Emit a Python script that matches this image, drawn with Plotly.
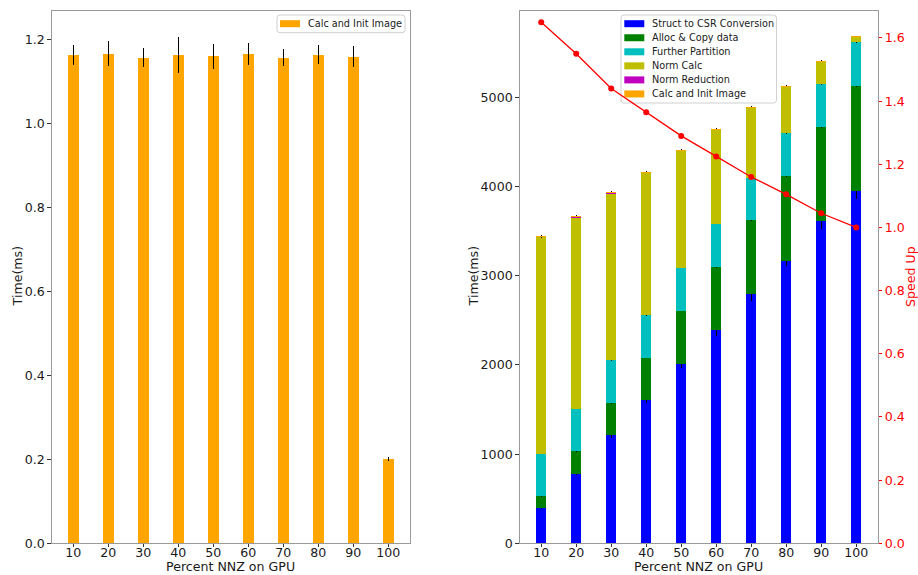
import plotly.graph_objects as go

# Percent of non-zeros handled on the GPU
pct_nnz = [10, 20, 30, 40, 50, 60, 70, 80, 90, 100]

# Left panel: image calculation / initialisation time (ms)
calc_init = [1.164, 1.166, 1.157, 1.164, 1.160, 1.166, 1.157, 1.164, 1.159, 0.200]
calc_init_err = [0.024, 0.030, 0.022, 0.043, 0.030, 0.026, 0.020, 0.022, 0.025, 0.005]

# Right panel: stacked stage times (ms)
struct_csr = [396, 781, 1211, 1607, 2010, 2388, 2791, 3169, 3610, 3954]
struct_csr_err = [10, 15, 28, 37, 41, 60, 75, 62, 88, 90]
alloc_copy = [131, 250, 359, 475, 599, 710, 830, 945, 1054, 1173]
alloc_copy_err = [4, 5, 6, 6, 7, 8, 8, 9, 10, 10]
further_partition = [479, 475, 482, 474, 478, 482, 479, 482, 482, 490]
further_partition_err = [4, 4, 5, 5, 5, 5, 5, 5, 5, 5]
norm_calc = [2434, 2157, 1880, 1603, 1319, 1061, 788, 527, 261, 67]
norm_calc_err = [12, 12, 12, 12, 12, 12, 10, 10, 10, 8]
norm_reduction = [4, 4, 4, 4, 4, 4, 4, 4, 4, 4]

# Speed-up relative to 100% on GPU
speed_up = [1.65, 1.55, 1.44, 1.365, 1.29, 1.225, 1.16, 1.105, 1.045, 1.0]

FONT = "DejaVu Sans"
W, H = 918, 575
BAR_W = 3
SPINE = "#9a9a9a"
TXT = "#1a1a1a"
FS = 12.6
LEG_FS = 9.7

# plot-area edges in pixels
TOP, BOTTOM = 10.5, 543.3
L1, R1 = 51.8, 409.8
L2, R2 = 519.7, 877.7


def px(x):
    return x / W


def py(y):
    return 1 - y / H


fig = go.Figure()

fig.add_trace(go.Bar(
    x=pct_nnz, y=calc_init, width=BAR_W, name="Calc and Init Image",
    marker=dict(color="#FFA500", line=dict(width=0)),
    error_y=dict(type="data", array=calc_init_err, color="black", thickness=1.3, width=0),
    xaxis="x", yaxis="y", showlegend=False,
))

stack = [
    ("Struct to CSR Conversion", struct_csr, struct_csr_err, "#0000FF"),
    ("Alloc & Copy data", alloc_copy, alloc_copy_err, "#008000"),
    ("Further Partition", further_partition, further_partition_err, "#00BFBF"),
    ("Norm Calc", norm_calc, norm_calc_err, "#BFBF00"),
    ("Norm Reduction", norm_reduction, None, "#BF00BF"),
    ("Calc and Init Image", calc_init, None, "#FFA500"),
]
for name, vals, errs, col in stack:
    err = dict(type="data", array=errs, color="black", thickness=1.3, width=0) if errs else None
    fig.add_trace(go.Bar(
        x=pct_nnz, y=vals, width=BAR_W, name=name,
        marker=dict(color=col, line=dict(width=0)),
        error_y=err, xaxis="x2", yaxis="y2", showlegend=False,
    ))

fig.add_trace(go.Scatter(
    x=pct_nnz, y=speed_up, mode="lines+markers", name="Speed Up",
    line=dict(color="#FF0000", width=1.3), marker=dict(color="#FF0000", size=6),
    xaxis="x2", yaxis="y3", showlegend=False,
))

ydom = [py(BOTTOM), py(TOP)]
tickfont = dict(family=FONT, size=FS, color=TXT)

common_x = dict(
    range=[3.85, 106.15], tickvals=pct_nnz, ticks="outside", ticklen=3,
    tickcolor="#333", showline=True, linecolor=SPINE, linewidth=1, mirror=True,
    showgrid=False, zeroline=False, tickfont=tickfont, automargin=False,
    ticklabelstandoff=-5,
)
common_y = dict(
    ticks="outside", ticklen=3.5, tickcolor="#333", showline=True,
    linecolor=SPINE, mirror=True, showgrid=False, zeroline=False,
    tickfont=tickfont, automargin=False,
)

fig.update_layout(
    width=W, height=H, margin=dict(l=0, r=0, t=0, b=0),
    paper_bgcolor="white", plot_bgcolor="rgba(0,0,0,0)",
    barmode="stack", font=dict(family=FONT), showlegend=False,
    xaxis=dict(domain=[px(L1), px(R1)], anchor="y", **common_x),
    yaxis=dict(domain=ydom, range=[0, 1.269], dtick=0.2, tickformat=".1f",
               anchor="x", **common_y),
    xaxis2=dict(domain=[px(L2), px(R2)], anchor="y2", **common_x),
    yaxis2=dict(domain=ydom, range=[0, 5973], dtick=1000, anchor="x2", **common_y),
    yaxis3=dict(
        domain=ydom, range=[0, 1.687], dtick=0.2, tickformat=".1f", anchor="x2",
        overlaying="y2", side="right", ticks="outside", ticklen=3.5,
        tickcolor="#FF0000", showline=False, showgrid=False, zeroline=False,
        tickfont=dict(family=FONT, size=FS, color="#FF0000"), automargin=False,
    ),
)

# Axis titles
mid_y = py((TOP + BOTTOM) / 2)
for cx in ((L1 + R1) / 2, (L2 + R2) / 2):
    fig.add_annotation(
        text="Percent NNZ on GPU", x=px(cx), y=0, xref="paper", yref="paper",
        showarrow=False, xanchor="center", yanchor="bottom", borderpad=0,
        font=dict(family=FONT, size=FS, color=TXT),
    )
for text, x, col in [("Time(ms)", 17.5, TXT), ("Time(ms)", 473.5, TXT), ("Speed Up", 911, "#FF0000")]:
    fig.add_annotation(
        text=text, x=px(x), y=mid_y, xref="paper", yref="paper", showarrow=False,
        textangle=-90, xanchor="center", yanchor="middle", borderpad=0,
        font=dict(family=FONT, size=FS, color=col),
    )


def rounded_box(x0, y0, x1, y1, r=3):
    # pixel box -> paper-coordinate SVG path with rounded corners
    rx, ry = r / W, r / H
    X0, X1 = px(x0), px(x1)
    Y0, Y1 = py(y1), py(y0)
    return (f"M {X0 + rx},{Y0} L {X1 - rx},{Y0} Q {X1},{Y0} {X1},{Y0 + ry} "
            f"L {X1},{Y1 - ry} Q {X1},{Y1} {X1 - rx},{Y1} L {X0 + rx},{Y1} "
            f"Q {X0},{Y1} {X0},{Y1 - ry} L {X0},{Y0 + ry} Q {X0},{Y0} {X0 + rx},{Y0} Z")


def draw_legend(entries, box, patch_x, text_x, first_y, step):
    x0, y0, x1, y1 = box
    fig.add_shape(type="path", path=rounded_box(x0, y0, x1, y1), xref="paper", yref="paper",
                  fillcolor="rgba(255,255,255,0.8)", line=dict(color="#d0d0d0", width=1),
                  layer="below")
    for i, (label, col) in enumerate(entries):
        cy = first_y + i * step
        fig.add_shape(type="rect", xref="paper", yref="paper",
                      x0=px(patch_x), x1=px(patch_x + 20), y0=py(cy + 3.5), y1=py(cy - 3.5),
                      fillcolor=col, line=dict(width=0), layer="below")
        fig.add_annotation(text=label, x=px(text_x), y=py(cy), xref="paper", yref="paper",
                           showarrow=False, xanchor="left", yanchor="middle", borderpad=0,
                           font=dict(family=FONT, size=LEG_FS, color=TXT))


draw_legend([("Calc and Init Image", "#FFA500")],
            (277, 15, 405, 32.7), 280, 306.5, 23.7, 14.05)
draw_legend([(name, col) for name, _, _, col in stack],
            (621, 15, 776.5, 103), 624.3, 650.5, 23.7, 14.05)

fig.write_html("out.html")
